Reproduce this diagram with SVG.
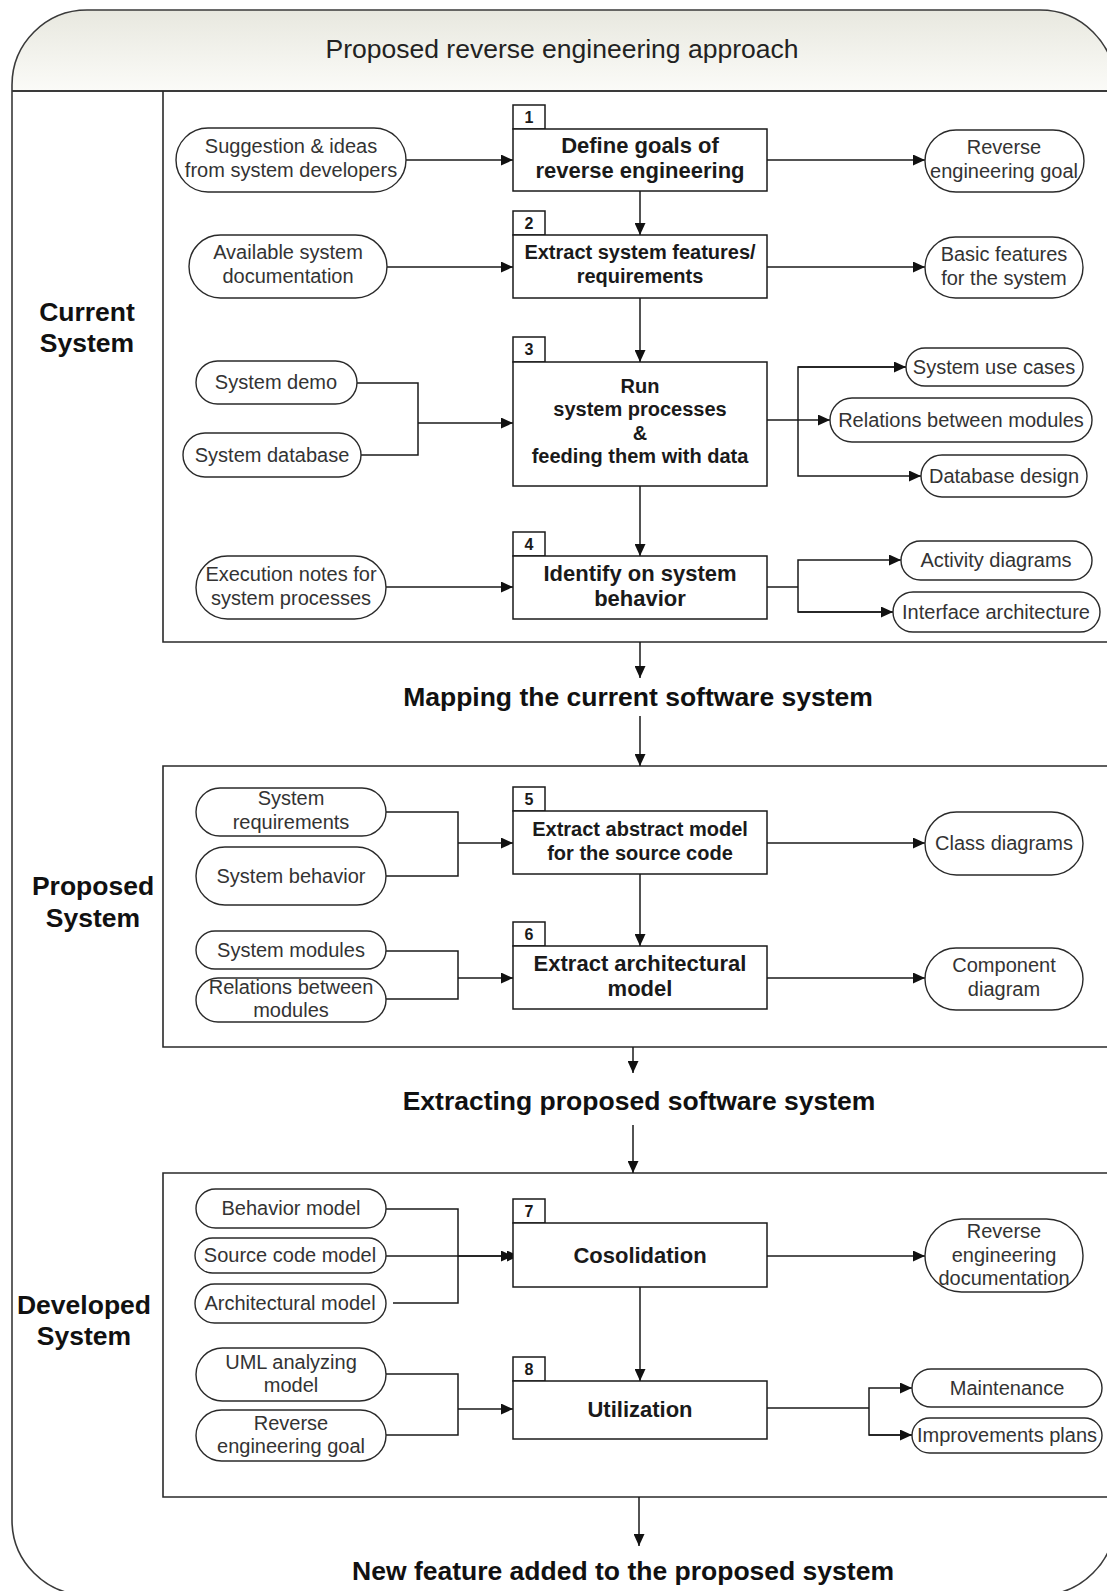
<svg xmlns="http://www.w3.org/2000/svg" width="1107" height="1591" viewBox="0 0 1107 1591">
<style>
.frame{fill:none;stroke:#3a3a3a;stroke-width:1.6}
.lane{fill:none;stroke:#2a2a2a;stroke-width:1.6}
.box{fill:#fff;stroke:#1a1a1a;stroke-width:1.5}
.tab{fill:#fff;stroke:#1a1a1a;stroke-width:1.5}
.node{fill:#fff;stroke:#2a2a2a;stroke-width:1.4}
.conn{fill:none;stroke:#1a1a1a;stroke-width:1.5}
.nt{font-family:"Liberation Sans",Arial,sans-serif;font-size:20px;fill:#333;text-anchor:middle}
.bt{font-family:"Liberation Sans",Arial,sans-serif;font-size:22px;font-weight:bold;fill:#1a1a1a;text-anchor:middle}
.bs{font-family:"Liberation Sans",Arial,sans-serif;font-size:20px;font-weight:bold;fill:#1a1a1a;text-anchor:middle}
.tn{font-family:"Liberation Sans",Arial,sans-serif;font-size:16px;font-weight:bold;fill:#1a1a1a;text-anchor:middle}
.big{font-family:"Liberation Sans",Arial,sans-serif;font-size:26.5px;font-weight:bold;fill:#111;text-anchor:middle}
.title{font-family:"Liberation Sans",Arial,sans-serif;font-size:26.5px;fill:#222;text-anchor:middle}
</style>
<defs>
<linearGradient id="hdr" x1="0" y1="0" x2="0" y2="1">
<stop offset="0" stop-color="#e8e8df"/>
<stop offset="1" stop-color="#fbfbf8"/>
</linearGradient>
<marker id="arr" markerUnits="userSpaceOnUse" markerWidth="13" markerHeight="11" refX="12" refY="5.5" orient="auto">
<path d="M0,0 L12,5.5 L0,11 z" fill="#111"/>
</marker>
</defs>

<g id="frame">
<path d="M12,91 L12,85 A75,75 0 0 1 87,10 L1040,10 A75,75 0 0 1 1115,85 L1115,91 Z" fill="url(#hdr)" stroke="none"/>
<path class="frame" d="M12,1520 L12,85 A75,75 0 0 1 87,10 L1040,10 A75,75 0 0 1 1115,85 L1115,1520 A75,75 0 0 1 1040,1595 L87,1595 A75,75 0 0 1 12,1520 Z"/>
<line x1="12" y1="91" x2="1110" y2="91" stroke="#3a3a3a" stroke-width="2"/>
<text class="title" x="562" y="58">Proposed reverse engineering approach</text>
</g>

<g id="lane-current">
<path class="lane" d="M163,91 L163,642 L1110,642"/>
<text class="big" x="87" y="321">Current</text>
<text class="big" x="87" y="352">System</text>
</g>
<g id="lane-proposed">
<path class="lane" d="M1110,766 L163,766 L163,1047 L1110,1047"/>
<text class="big" x="93" y="895">Proposed</text>
<text class="big" x="93" y="927">System</text>
</g>
<g id="lane-developed">
<path class="lane" d="M1110,1173 L163,1173 L163,1497 L1110,1497"/>
<text class="big" x="84" y="1314">Developed</text>
<text class="big" x="84" y="1345">System</text>
</g>

<g id="connectors">
<path class="conn" d="M406,160 L513,160" marker-end="url(#arr)"/>
<path class="conn" d="M767,160 L925,160" marker-end="url(#arr)"/>
<path class="conn" d="M640,191 L640,235" marker-end="url(#arr)"/>
<path class="conn" d="M387,267 L513,267" marker-end="url(#arr)"/>
<path class="conn" d="M767,267 L925,267" marker-end="url(#arr)"/>
<path class="conn" d="M640,298 L640,362" marker-end="url(#arr)"/>
<path class="conn" d="M357,383 L418,383 L418,455 L361,455"/>
<path class="conn" d="M418,423 L513,423" marker-end="url(#arr)"/>
<path class="conn" d="M767,420 L830,420" marker-end="url(#arr)"/>
<path class="conn" d="M906,367 L798,367 L798,476 L921,476" marker-end="url(#arr)"/>
<path class="conn" d="M798,367 L906,367" marker-end="url(#arr)"/>
<path class="conn" d="M640,486 L640,556" marker-end="url(#arr)"/>
<path class="conn" d="M386,587 L513,587" marker-end="url(#arr)"/>
<path class="conn" d="M767,587 L798,587"/>
<path class="conn" d="M893,612 L798,612 L798,560 L901,560" marker-end="url(#arr)"/>
<path class="conn" d="M798,612 L893,612" marker-end="url(#arr)"/>
<path class="conn" d="M640,642 L640,678" marker-end="url(#arr)"/>
<path class="conn" d="M640,716 L640,766" marker-end="url(#arr)"/>
<path class="conn" d="M386,812 L458,812 L458,876 L386,876"/>
<path class="conn" d="M458,843 L513,843" marker-end="url(#arr)"/>
<path class="conn" d="M767,843 L925,843" marker-end="url(#arr)"/>
<path class="conn" d="M640,874 L640,946" marker-end="url(#arr)"/>
<path class="conn" d="M386,951 L458,951 L458,999 L386,999"/>
<path class="conn" d="M458,978 L513,978" marker-end="url(#arr)"/>
<path class="conn" d="M767,978 L925,978" marker-end="url(#arr)"/>
<path class="conn" d="M633,1047 L633,1073" marker-end="url(#arr)"/>
<path class="conn" d="M633,1125 L633,1173" marker-end="url(#arr)"/>
<path class="conn" d="M386,1209 L458,1209 L458,1303 L393,1303"/>
<path class="conn" d="M458,1256 L519,1256" marker-end="url(#arr)"/>
<path class="conn" d="M386,1256 L513,1256" marker-end="url(#arr)"/>
<path class="conn" d="M767,1256 L925,1256" marker-end="url(#arr)"/>
<path class="conn" d="M640,1287 L640,1381" marker-end="url(#arr)"/>
<path class="conn" d="M386,1374 L458,1374 L458,1435 L386,1435"/>
<path class="conn" d="M458,1409 L513,1409" marker-end="url(#arr)"/>
<path class="conn" d="M767,1408 L869,1408"/>
<path class="conn" d="M912,1435 L869,1435 L869,1388 L912,1388" marker-end="url(#arr)"/>
<path class="conn" d="M869,1435 L912,1435" marker-end="url(#arr)"/>
<path class="conn" d="M639,1497 L639,1546" marker-end="url(#arr)"/>
</g>

<g id="label-mapping"><text class="big" x="638" y="706">Mapping the current software system</text></g>
<g id="label-extracting"><text class="big" x="639" y="1110">Extracting proposed software system</text></g>
<g id="label-newfeature"><text class="big" x="623" y="1580">New feature added to the proposed system</text></g>

<g id="box1"><rect class="tab" x="513" y="105" width="32" height="24"/><text class="tn" x="529" y="123">1</text>
<rect class="box" x="513" y="129" width="254" height="62"/>
<text class="bt" x="640" y="153">Define goals of</text><text class="bt" x="640" y="178">reverse engineering</text></g>
<g id="box2"><rect class="tab" x="513" y="211" width="32" height="24"/><text class="tn" x="529" y="229">2</text>
<rect class="box" x="513" y="235" width="254" height="63"/>
<text class="bs" x="640" y="259">Extract system features/</text><text class="bs" x="640" y="283">requirements</text></g>
<g id="box3"><rect class="tab" x="513" y="337" width="32" height="25"/><text class="tn" x="529" y="355">3</text>
<rect class="box" x="513" y="362" width="254" height="124"/>
<text class="bs" x="640" y="393">Run</text><text class="bs" x="640" y="416">system processes</text><text class="bs" x="640" y="440">&amp;</text><text class="bs" x="640" y="463">feeding them with data</text></g>
<g id="box4"><rect class="tab" x="513" y="532" width="32" height="24"/><text class="tn" x="529" y="550">4</text>
<rect class="box" x="513" y="556" width="254" height="63"/>
<text class="bt" x="640" y="581">Identify on system</text><text class="bt" x="640" y="606">behavior</text></g>
<g id="box5"><rect class="tab" x="513" y="787" width="32" height="24"/><text class="tn" x="529" y="805">5</text>
<rect class="box" x="513" y="811" width="254" height="63"/>
<text class="bs" x="640" y="836">Extract abstract model</text><text class="bs" x="640" y="860">for the source code</text></g>
<g id="box6"><rect class="tab" x="513" y="922" width="32" height="24"/><text class="tn" x="529" y="940">6</text>
<rect class="box" x="513" y="946" width="254" height="63"/>
<text class="bt" x="640" y="971">Extract architectural</text><text class="bt" x="640" y="996">model</text></g>
<g id="box7"><rect class="tab" x="513" y="1199" width="32" height="24"/><text class="tn" x="529" y="1217">7</text>
<rect class="box" x="513" y="1223" width="254" height="64"/>
<text class="bt" x="640" y="1263">Cosolidation</text></g>
<g id="box8"><rect class="tab" x="513" y="1357" width="32" height="24"/><text class="tn" x="529" y="1375">8</text>
<rect class="box" x="513" y="1381" width="254" height="58"/>
<text class="bt" x="640" y="1417">Utilization</text></g>

<g id="n-suggestion"><rect class="node" x="176" y="128" width="230" height="64" rx="32"/><text class="nt" x="291" y="153">Suggestion &amp; ideas</text><text class="nt" x="291" y="177">from system developers</text></g>
<g id="n-available"><rect class="node" x="189" y="235" width="198" height="63" rx="31.5"/><text class="nt" x="288" y="259">Available system</text><text class="nt" x="288" y="283">documentation</text></g>
<g id="n-demo"><rect class="node" x="196" y="361" width="161" height="43" rx="21.5"/><text class="nt" x="276" y="389">System demo</text></g>
<g id="n-database"><rect class="node" x="183" y="433" width="178" height="44" rx="22"/><text class="nt" x="272" y="462">System database</text></g>
<g id="n-execution"><rect class="node" x="196" y="556" width="190" height="63" rx="31.5"/><text class="nt" x="291" y="581">Execution notes for</text><text class="nt" x="291" y="605">system processes</text></g>
<g id="n-goal1"><rect class="node" x="925" y="130" width="159" height="62" rx="31"/><text class="nt" x="1004" y="154">Reverse</text><text class="nt" x="1004" y="178">engineering goal</text></g>
<g id="n-basic"><rect class="node" x="925" y="237" width="158" height="61" rx="30.5"/><text class="nt" x="1004" y="261">Basic features</text><text class="nt" x="1004" y="285">for the system</text></g>
<g id="n-usecases"><rect class="node" x="906" y="348" width="177" height="38" rx="19"/><text class="nt" x="994" y="374">System use cases</text></g>
<g id="n-relations1"><rect class="node" x="830" y="398" width="262" height="44" rx="22"/><text class="nt" x="961" y="427">Relations between modules</text></g>
<g id="n-dbdesign"><rect class="node" x="921" y="455" width="166" height="42" rx="21"/><text class="nt" x="1004" y="483">Database design</text></g>
<g id="n-activity"><rect class="node" x="901" y="541" width="191" height="39" rx="19.5"/><text class="nt" x="996" y="567">Activity diagrams</text></g>
<g id="n-interface"><rect class="node" x="893" y="592" width="207" height="40" rx="20"/><text class="nt" x="996" y="619">Interface architecture</text></g>

<g id="n-sysreq"><rect class="node" x="196" y="788" width="190" height="48" rx="24"/><text class="nt" x="291" y="805">System</text><text class="nt" x="291" y="829">requirements</text></g>
<g id="n-sysbeh"><rect class="node" x="196" y="847" width="190" height="58" rx="29"/><text class="nt" x="291" y="883">System behavior</text></g>
<g id="n-sysmod"><rect class="node" x="196" y="931" width="190" height="38" rx="19"/><text class="nt" x="291" y="957">System modules</text></g>
<g id="n-relations2"><rect class="node" x="196" y="978" width="190" height="44" rx="22"/><text class="nt" x="291" y="994">Relations between</text><text class="nt" x="291" y="1017">modules</text></g>
<g id="n-class"><rect class="node" x="925" y="812" width="158" height="63" rx="31.5"/><text class="nt" x="1004" y="850">Class diagrams</text></g>
<g id="n-component"><rect class="node" x="925" y="948" width="158" height="62" rx="31"/><text class="nt" x="1004" y="972">Component</text><text class="nt" x="1004" y="996">diagram</text></g>

<g id="n-behmodel"><rect class="node" x="196" y="1189" width="190" height="39" rx="19.5"/><text class="nt" x="291" y="1215">Behavior model</text></g>
<g id="n-srcmodel"><rect class="node" x="195" y="1238" width="191" height="35" rx="17.5"/><text class="nt" x="290" y="1262">Source code model</text></g>
<g id="n-archmodel"><rect class="node" x="195" y="1284" width="191" height="39" rx="19.5"/><text class="nt" x="290" y="1310">Architectural model</text></g>
<g id="n-uml"><rect class="node" x="196" y="1348" width="190" height="53" rx="26.5"/><text class="nt" x="291" y="1369">UML analyzing</text><text class="nt" x="291" y="1392">model</text></g>
<g id="n-goal2"><rect class="node" x="196" y="1410" width="190" height="51" rx="25.5"/><text class="nt" x="291" y="1430">Reverse</text><text class="nt" x="291" y="1453">engineering goal</text></g>
<g id="n-redoc"><rect class="node" x="925" y="1219" width="158" height="73" rx="36.5"/><text class="nt" x="1004" y="1238">Reverse</text><text class="nt" x="1004" y="1262">engineering</text><text class="nt" x="1004" y="1285">documentation</text></g>
<g id="n-maint"><rect class="node" x="912" y="1369" width="190" height="38" rx="19"/><text class="nt" x="1007" y="1395">Maintenance</text></g>
<g id="n-improve"><rect class="node" x="912" y="1418" width="190" height="35" rx="17.5"/><text class="nt" x="1007" y="1442">Improvements plans</text></g>
</svg>
